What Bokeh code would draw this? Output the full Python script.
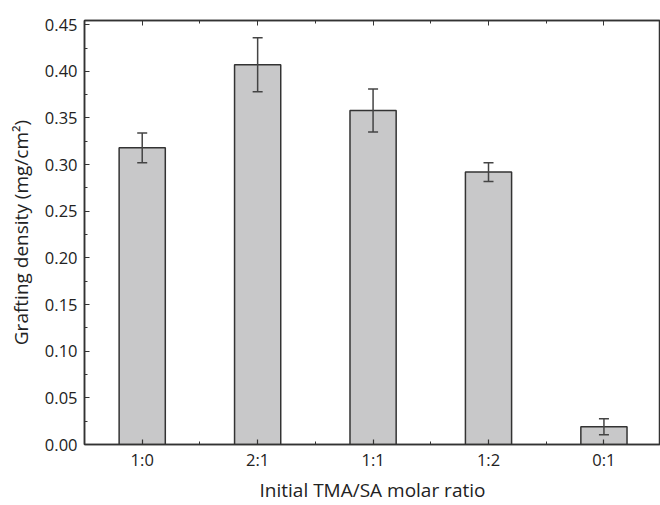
from bokeh.plotting import figure
from bokeh.models import (ColumnDataSource, Range1d, FixedTicker, LinearAxis,
                          Whisker, TeeHead, NumeralTickFormatter)
from bokeh.embed import file_html
from bokeh.resources import INLINE

categories = ["1:0", "2:1", "1:1", "1:2", "0:1"]
density = [0.318, 0.407, 0.358, 0.292, 0.019]
errors = [0.016, 0.029, 0.023, 0.010, 0.0085]
y_ticks = [0.00, 0.05, 0.10, 0.15, 0.20, 0.25, 0.30, 0.35, 0.40, 0.45]

xs = list(range(len(categories)))
src = ColumnDataSource(dict(
    x=xs, top=density,
    upper=[d + e for d, e in zip(density, errors)],
    lower=[d - e for d, e in zip(density, errors)],
))

FONT = "Open Sans"
DARK = "#333333"

p = figure(width=660, height=505, output_backend="svg", toolbar_location=None,
           x_range=Range1d(-0.5, 4.49), y_range=Range1d(0, 0.4545),
           min_border_left=84, min_border_right=0, min_border_top=20,
           min_border_bottom=61)
p.background_fill_color = "white"
p.border_fill_color = "white"
p.outline_line_color = DARK
p.outline_line_width = 1.5
p.grid.visible = False

p.vbar(x="x", top="top", width=0.4, bottom=0, source=src,
       fill_color="#c8c8c9", line_color=DARK, line_width=1.5)

w = Whisker(base="x", upper="upper", lower="lower", source=src, level="overlay",
            line_color="#444444", line_width=1.5,
            upper_head=TeeHead(size=10, line_color="#444444", line_width=1.5),
            lower_head=TeeHead(size=10, line_color="#444444", line_width=1.5))
p.add_layout(w)

minor_x = [i - 0.5 for i in range(len(categories) + 1)]
minor_y = [t + 0.025 for t in y_ticks]

xa = p.xaxis[0]
xa.ticker = FixedTicker(ticks=xs, minor_ticks=minor_x)
xa.major_label_overrides = {i: c for i, c in enumerate(categories)}
xa.axis_label = "Initial TMA/SA molar ratio"

ya = p.yaxis[0]
ya.ticker = FixedTicker(ticks=y_ticks, minor_ticks=minor_y)
ya.formatter = NumeralTickFormatter(format="0.00")
ya.axis_label = "Grafting density (mg/cm\u00b2)"

for ax in (xa, ya):
    ax.axis_line_color = DARK
    ax.axis_line_width = 1.5
    ax.major_tick_line_color = DARK
    ax.minor_tick_line_color = DARK
    ax.major_tick_line_width = 1.2
    ax.minor_tick_line_width = 1
    ax.major_tick_in = 5
    ax.major_tick_out = 0
    ax.minor_tick_in = 3
    ax.minor_tick_out = 0
    ax.major_label_text_font = FONT
    ax.major_label_text_font_size = "16.5px"
    ax.major_label_text_color = "#222222"
    ax.axis_label_text_font = FONT
    ax.axis_label_text_font_size = "19px"
    ax.axis_label_text_font_style = "normal"
    ax.axis_label_text_color = "#222222"

xa.major_label_standoff = 3
xa.axis_label_standoff = 3
ya.major_label_standoff = 7
ya.axis_label_standoff = 8

top = LinearAxis(ticker=FixedTicker(ticks=xs, minor_ticks=minor_x),
                 major_label_overrides={i: "" for i in xs},
                 axis_line_color=DARK, axis_line_width=1.5,
                 major_tick_line_color=DARK, minor_tick_line_color=DARK,
                 major_tick_in=5, major_tick_out=0,
                 minor_tick_in=3, minor_tick_out=0,
                 major_label_standoff=0)
p.add_layout(top, "above")

open("out.html", "w").write(file_html(p, INLINE))
